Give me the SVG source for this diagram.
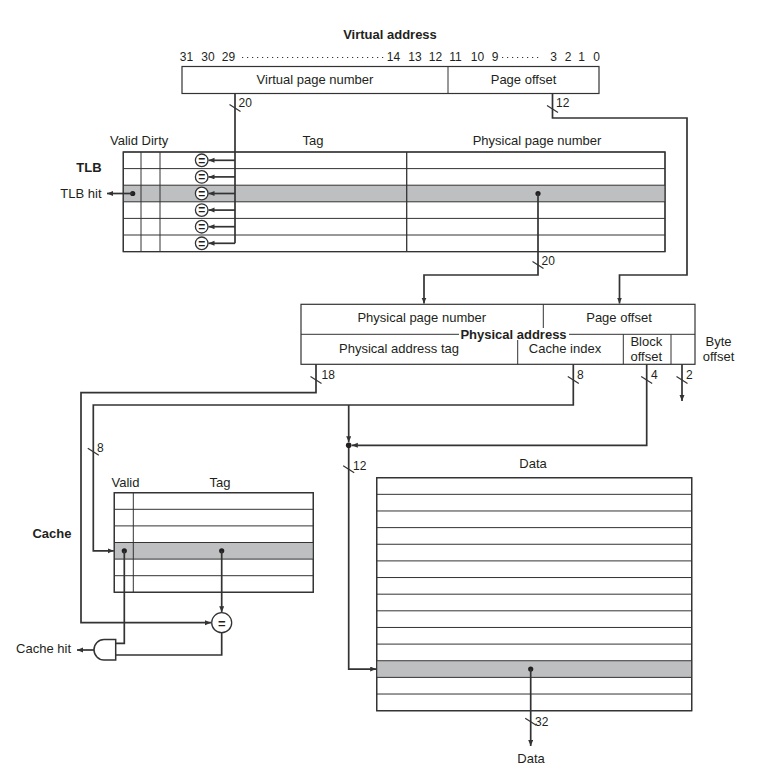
<svg xmlns="http://www.w3.org/2000/svg" width="765" height="773" viewBox="0 0 765 773">
<style>
.t{font-family:"Liberation Sans",Arial,sans-serif;font-size:13px;fill:#231f20}
.n{font-family:"Liberation Sans",Arial,sans-serif;font-size:12px;fill:#231f20}
.m{text-anchor:middle}
.e{text-anchor:end}
.b{font-weight:bold}
.box{fill:#fff;stroke:#333;stroke-width:1.2}
.g{stroke:#333;stroke-width:1;fill:none}
.hl{fill:#bebfc1}
.c{stroke:#333;stroke-width:1.7;fill:none}
.a{marker-end:url(#ah)}
.tk{stroke:#333;stroke-width:1.2}
.dot{fill:#231f20}
.eq{fill:#fff;stroke:#333;stroke-width:1.3}
</style>
<defs>
<marker id="ah" markerUnits="userSpaceOnUse" markerWidth="7" markerHeight="6" refX="6" refY="2.5" orient="auto">
<path d="M0,0 L6,2.5 L0,5 z" fill="#333"/>
</marker>
</defs>
<rect width="765" height="773" fill="#fff"/>

<g id="virtual-address">
<text class="t b m" x="390" y="39">Virtual address</text>
<text class="n m" x="186.5" y="61">31</text>
<text class="n m" x="208" y="61">30</text>
<text class="n m" x="228.5" y="61">29</text>
<line x1="242" y1="57.5" x2="384" y2="57.5" stroke="#333" stroke-width="1.2" stroke-dasharray="1.2 3.8"/>
<text class="n m" x="393.5" y="61">14</text>
<text class="n m" x="415" y="61">13</text>
<text class="n m" x="435.5" y="61">12</text>
<text class="n m" x="455.5" y="61">11</text>
<text class="n m" x="477.5" y="61">10</text>
<text class="n m" x="495" y="61">9</text>
<line x1="502" y1="57.5" x2="541" y2="57.5" stroke="#333" stroke-width="1.2" stroke-dasharray="1.2 3.8"/>
<text class="n m" x="553.5" y="61">3</text>
<text class="n m" x="568" y="61">2</text>
<text class="n m" x="581.5" y="61">1</text>
<text class="n m" x="596.5" y="61">0</text>
<rect class="box" x="182" y="66.5" width="417" height="27"/>
<line class="g" x1="448" y1="66.5" x2="448" y2="93.5"/>
<text class="t m" x="315" y="84">Virtual page number</text>
<text class="t m" x="523.5" y="84">Page offset</text>
</g>

<g id="tlb">
<text class="t" x="110" y="145">Valid Dirty</text>
<text class="t m" x="313" y="145">Tag</text>
<text class="t m" x="537" y="145">Physical page number</text>
<text class="t b m" x="89" y="172">TLB</text>
<text class="t e" x="101.5" y="198">TLB hit</text>
<rect class="box" x="123.3" y="152" width="541.7" height="99.6"/>
<rect class="hl" x="123.3" y="185.2" width="541.7" height="16.6"/>
<g class="g">
<line x1="123.3" y1="168.6" x2="665" y2="168.6"/>
<line x1="123.3" y1="185.2" x2="665" y2="185.2"/>
<line x1="123.3" y1="201.8" x2="665" y2="201.8"/>
<line x1="123.3" y1="218.4" x2="665" y2="218.4"/>
<line x1="123.3" y1="235" x2="665" y2="235"/>
<line x1="141" y1="152" x2="141" y2="251.6"/>
<line x1="160" y1="152" x2="160" y2="251.6"/>
<line x1="406.7" y1="152" x2="406.7" y2="251.6" stroke-width="1.3"/>
</g>
<rect x="123.3" y="152" width="541.7" height="99.6" fill="none" stroke="#333" stroke-width="1.2"/>
<g id="tlb-comparators">
<circle class="eq" cx="201.7" cy="160.3" r="6.3"/>
<circle class="eq" cx="201.7" cy="176.9" r="6.3"/>
<circle class="eq" cx="201.7" cy="193.5" r="6.3"/>
<circle class="eq" cx="201.7" cy="210.1" r="6.3"/>
<circle class="eq" cx="201.7" cy="226.7" r="6.3"/>
<circle class="eq" cx="201.7" cy="243.3" r="6.3"/>
<text class="n m b" x="201.7" y="164.5">=</text>
<text class="n m b" x="201.7" y="181.1">=</text>
<text class="n m b" x="201.7" y="197.7">=</text>
<text class="n m b" x="201.7" y="214.3">=</text>
<text class="n m b" x="201.7" y="230.9">=</text>
<text class="n m b" x="201.7" y="247.5">=</text>
</g>
<circle class="dot" cx="132.7" cy="193.5" r="2.6"/>
<circle class="dot" cx="538" cy="193.5" r="2.6"/>
</g>

<g id="physical-address">
<rect class="box" x="301" y="304.3" width="394" height="60"/>
<g class="g">
<line x1="301" y1="334.3" x2="695" y2="334.3"/>
<line x1="543.3" y1="304.3" x2="543.3" y2="334.3"/>
<line x1="517.7" y1="334.3" x2="517.7" y2="364.3"/>
<line x1="623.3" y1="334.3" x2="623.3" y2="364.3"/>
<line x1="671" y1="334.3" x2="671" y2="364.3"/>
</g>
<rect x="459" y="328" width="110" height="12" fill="#fff"/>
<text class="t b m" x="513.5" y="338.5">Physical address</text>
<text class="t m" x="421.7" y="322.3">Physical page number</text>
<text class="t m" x="619" y="322.3">Page offset</text>
<text class="t m" x="399" y="353">Physical address tag</text>
<text class="t m" x="565" y="353">Cache index</text>
<text class="t m" x="646.3" y="345.5">Block</text>
<text class="t m" x="646.3" y="361">offset</text>
<text class="t m" x="718.5" y="345.5">Byte</text>
<text class="t m" x="718.5" y="361">offset</text>
</g>

<g id="cache">
<text class="t m" x="125.5" y="487">Valid</text>
<text class="t m" x="220" y="487">Tag</text>
<text class="t b m" x="52" y="538">Cache</text>
<rect class="box" x="114.3" y="492.7" width="199" height="99.6"/>
<rect class="hl" x="114.3" y="542.5" width="199" height="16.6"/>
<g class="g">
<line x1="114.3" y1="509.3" x2="313.3" y2="509.3"/>
<line x1="114.3" y1="525.9" x2="313.3" y2="525.9"/>
<line x1="114.3" y1="542.5" x2="313.3" y2="542.5"/>
<line x1="114.3" y1="559.1" x2="313.3" y2="559.1"/>
<line x1="114.3" y1="575.7" x2="313.3" y2="575.7"/>
<line x1="133.3" y1="492.7" x2="133.3" y2="592.3"/>
</g>
<rect x="114.3" y="492.7" width="199" height="99.6" fill="none" stroke="#333" stroke-width="1.2"/>
<circle class="dot" cx="124.3" cy="550.8" r="2.6"/>
<circle class="dot" cx="221.7" cy="550.8" r="2.6"/>
</g>

<g id="cache-compare">
<circle class="eq" cx="221.7" cy="622.7" r="10"/>
<text class="t m b" x="221.7" y="627.5">=</text>
</g>

<g id="and-gate">
<path d="M115.7,639.5 H104 A10,10.25 0 0 0 104,660 H115.7 Z" fill="#fff" stroke="#333" stroke-width="1.5"/>
<text class="t e" x="71" y="653">Cache hit</text>
</g>

<g id="data-array">
<text class="t m" x="533" y="468">Data</text>
<rect class="box" x="376.7" y="477.7" width="315" height="233"/>
<rect class="hl" x="376.7" y="660.8" width="315" height="16.64"/>
<g class="g">
<line x1="376.7" y1="494.34" x2="691.7" y2="494.34"/>
<line x1="376.7" y1="510.98" x2="691.7" y2="510.98"/>
<line x1="376.7" y1="527.62" x2="691.7" y2="527.62"/>
<line x1="376.7" y1="544.26" x2="691.7" y2="544.26"/>
<line x1="376.7" y1="560.9" x2="691.7" y2="560.9"/>
<line x1="376.7" y1="577.54" x2="691.7" y2="577.54"/>
<line x1="376.7" y1="594.18" x2="691.7" y2="594.18"/>
<line x1="376.7" y1="610.82" x2="691.7" y2="610.82"/>
<line x1="376.7" y1="627.46" x2="691.7" y2="627.46"/>
<line x1="376.7" y1="644.1" x2="691.7" y2="644.1"/>
<line x1="376.7" y1="660.74" x2="691.7" y2="660.74"/>
<line x1="376.7" y1="677.38" x2="691.7" y2="677.38"/>
<line x1="376.7" y1="694.02" x2="691.7" y2="694.02"/>
</g>
<rect x="376.7" y="477.7" width="315" height="233" fill="none" stroke="#333" stroke-width="1.2"/>
<circle class="dot" cx="530.7" cy="669.1" r="2.6"/>
<text class="t m" x="531" y="763">Data</text>
</g>

<g id="connectors">
<path class="c" d="M235,93.5 V243.3"/>
<path class="c a" d="M235,160.3 H208.5"/>
<path class="c a" d="M235,176.9 H208.5"/>
<path class="c a" d="M235,193.5 H208.5"/>
<path class="c a" d="M235,210.1 H208.5"/>
<path class="c a" d="M235,226.7 H208.5"/>
<path class="c a" d="M235,243.3 H208.5"/>
<path class="c a" d="M132.7,193.5 H107"/>
<path class="c a" d="M552.5,93.5 V118 H687 V275 H619.5 V303.5"/>
<path class="c a" d="M538,193.5 V275 H424 V303.5"/>
<path class="c a" d="M316,364.3 V392.7 H81 V622.7 H211"/>
<path class="c a" d="M573.3,364.3 V405 H93.3 V550.8 H113.8"/>
<path class="c a" d="M348.7,405 V442.3"/>
<path class="c a" d="M348.7,445.3 V669.1 H376.2"/>
<path class="c a" d="M646.7,364.3 V445.3 H351.8"/>
<circle class="dot" cx="348.7" cy="445.3" r="2.8"/>
<path class="c a" d="M682,364.3 V401"/>
<path class="c a" d="M221.7,550.8 V612.2"/>
<path class="c" d="M124.3,550.8 V643.3 H115.7"/>
<path class="c" d="M221.7,632.7 V655 H115.7"/>
<path class="c a" d="M94,650 H77"/>
<path class="c a" d="M530.7,669.1 V746"/>
<g class="tk">
<line x1="229.5" y1="104.5" x2="240.5" y2="111.5"/>
<line x1="547" y1="105.5" x2="558" y2="112.5"/>
<line x1="532.5" y1="261.5" x2="543.5" y2="268.5"/>
<line x1="310.5" y1="376.5" x2="321.5" y2="383.5"/>
<line x1="567.8" y1="376.5" x2="578.8" y2="383.5"/>
<line x1="641.2" y1="376.5" x2="652.2" y2="383.5"/>
<line x1="676.5" y1="376.5" x2="687.5" y2="383.5"/>
<line x1="87.8" y1="448.2" x2="98.8" y2="455.2"/>
<line x1="343.2" y1="465.8" x2="354.2" y2="472.8"/>
<line x1="525.2" y1="718.2" x2="536.2" y2="725.2"/>
</g>
<text class="n" x="238.5" y="107">20</text>
<text class="n" x="556" y="107">12</text>
<text class="n" x="541.5" y="265">20</text>
<text class="n" x="321.5" y="379">18</text>
<text class="n" x="577" y="379">8</text>
<text class="n" x="651" y="379">4</text>
<text class="n" x="686" y="379">2</text>
<text class="n" x="97" y="452">8</text>
<text class="n" x="353" y="470">12</text>
<text class="n" x="535" y="725.5">32</text>
</g>
</svg>
